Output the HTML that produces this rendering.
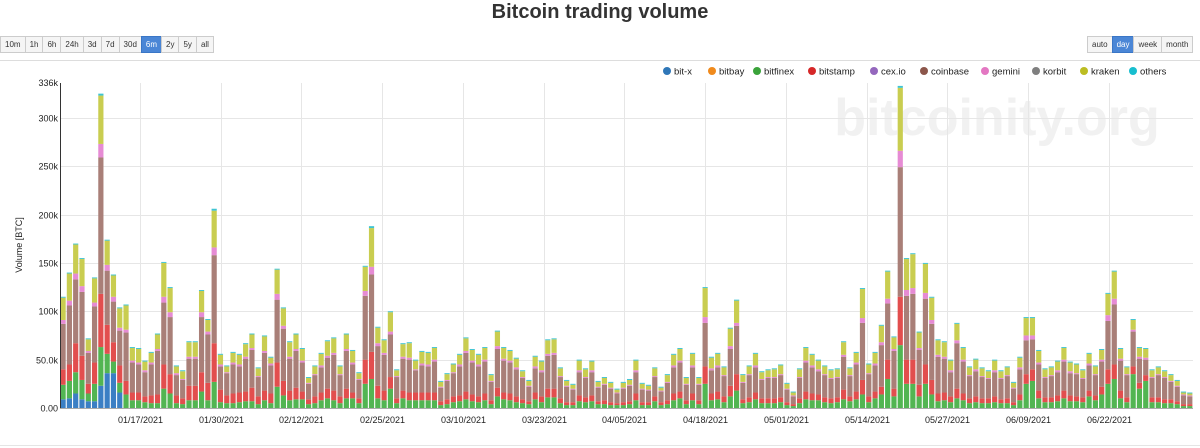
<!DOCTYPE html>
<html><head><meta charset="utf-8"><title>Bitcoin trading volume</title>
<style>
body{margin:0;width:1200px;height:448px;background:#fff;font-family:"Liberation Sans",sans-serif;overflow:hidden;position:relative}
.title{position:absolute;top:0;left:0;width:1200px;text-align:center;font-size:20px;font-weight:bold;color:#333;line-height:24px}
.grp{position:absolute;top:36px;display:flex}
.grp span{display:block;font-size:8px;color:#333;border:1px solid #ccc;margin-left:-1px;padding:0 4px;height:15px;line-height:15px;background:#f5f5f5}
.grp span.on{background:#4a86d6;color:#fff;border-color:#3a76c6}
</style></head><body>
<div class="title">Bitcoin trading volume</div>
<div class="grp" style="left:1px">
<span>10m</span><span>1h</span><span>6h</span><span>24h</span><span>3d</span><span>7d</span><span>30d</span><span class="on">6m</span><span>2y</span><span>5y</span><span>all</span>
</div>
<div class="grp" style="left:1088px">
<span>auto</span><span class="on">day</span><span>week</span><span>month</span>
</div>
<svg id="chart" width="1200" height="448" style="position:absolute;left:0;top:0"></svg>
<script>
const startDate = "2021-01-05";
const tickLabels = ["01/17/2021","01/30/2021","02/12/2021","02/25/2021","03/10/2021","03/23/2021","04/05/2021","04/18/2021","05/01/2021","05/14/2021","05/27/2021","06/09/2021","06/22/2021"];
const tickDayIndex = [12,25,38,51,64,77,90,103,116,129,142,155,168];
const yTicks = [0,50,100,150,200,250,300];
const yTickLabels = ["0.00","50.0k","100k","150k","200k","250k","300k"];
const yMax = 336;
const bitx = [9,10,15,9,7,7,23,36,36,16];
const bitfinex = [15,18,22,20,8,18,40,20,12,10,14,8,8,6,5,5,20,15,5,4,8,8,17,8,27,6,5,5,6,7,7,4,8,5,22,13,8,9,9,4,5,8,10,8,5,10,10,5,25,30,10,8,20,5,10,8,8,8,8,8,3,4,6,7,9,7,6,8,4,12,9,8,6,5,4,9,6,11,11,5,3,3,7,6,7,4,4,3,3,3,4,8,3,3,7,3,4,8,10,4,8,4,25,8,9,6,12,18,5,6,9,5,5,5,6,3,2,5,9,8,8,6,5,6,9,7,9,14,6,10,14,30,12,65,25,25,12,25,14,7,8,6,10,8,5,6,5,5,6,5,5,3,8,25,28,10,6,6,7,10,7,7,6,12,8,14,25,30,10,6,35,20,28,6,6,5,5,4,2,2];
const bitstamp = [16,17,30,25,10,22,55,30,20,18,14,8,8,6,8,9,25,20,8,6,15,15,20,18,40,13,8,10,10,10,14,8,10,10,25,15,10,12,8,5,7,8,10,10,7,10,6,5,25,28,13,10,12,5,8,8,8,8,8,8,4,5,6,6,8,7,6,7,4,9,7,7,6,4,3,7,6,9,9,5,3,3,6,5,6,3,4,3,2,3,3,7,3,3,5,3,4,7,7,4,7,4,18,7,8,6,11,17,4,5,7,5,5,5,5,3,2,5,8,7,6,5,5,5,10,5,8,15,6,7,8,20,8,50,25,25,12,20,15,8,8,6,10,7,5,6,5,5,6,4,5,3,6,10,12,8,5,5,6,8,6,5,5,6,5,8,15,15,8,5,8,6,6,5,5,4,4,3,2,2];
const coinbase = [47,61,66,66,32,58,141,56,42,36,50,31,29,25,32,45,64,59,21,19,28,28,57,50,91,24,23,30,27,34,39,20,39,29,65,54,33,38,30,16,22,26,32,37,22,39,29,19,66,80,41,37,44,22,33,34,23,28,27,32,14,19,24,30,40,33,31,33,19,40,33,32,28,22,15,25,25,34,35,22,16,13,24,20,24,14,16,14,10,14,16,22,13,12,20,11,18,27,30,16,27,16,45,24,25,21,38,50,17,23,26,19,21,21,23,13,8,21,30,27,24,23,20,20,34,21,28,59,23,27,43,58,39,134,66,68,36,68,58,38,35,25,47,33,23,26,22,20,25,21,23,14,26,35,31,27,20,22,24,30,23,23,19,26,21,26,50,62,31,23,36,25,16,20,23,22,18,15,9,8];
const gemini = [4,5,6,6,2,4,14,6,5,3,3,2,2,2,2,2,6,5,2,1,2,2,5,3,8,2,1,2,2,2,2,1,2,2,6,3,2,2,2,1,1,2,2,2,1,2,2,1,5,8,3,2,3,1,2,2,1,2,2,2,1,1,1,2,2,2,2,2,1,3,2,2,2,1,1,2,2,2,2,1,1,1,2,1,2,1,1,1,1,1,1,2,1,1,1,1,1,2,2,1,2,1,6,2,2,1,3,3,1,1,2,1,1,1,1,1,1,1,2,2,2,1,1,1,2,1,2,5,1,2,3,5,2,17,6,6,2,6,4,2,2,2,3,2,1,2,1,1,2,1,1,1,2,5,4,2,1,1,2,2,2,1,1,2,1,2,6,6,2,1,2,2,2,1,1,1,1,1,1,1];
const kraken = [23,28,30,28,12,25,50,25,22,20,25,13,14,9,10,15,35,25,7,8,15,15,22,12,38,10,6,10,10,13,14,8,15,6,25,18,15,15,12,5,8,12,15,15,8,15,12,6,25,40,16,13,20,6,13,15,9,12,12,12,5,6,8,10,13,11,10,12,6,15,11,10,9,6,5,10,9,14,14,8,5,4,10,8,9,5,6,5,3,5,5,10,5,4,8,3,7,11,12,6,12,6,30,11,12,8,18,23,7,8,12,7,7,8,9,5,3,8,13,11,9,8,8,8,13,7,10,30,9,11,17,28,12,65,32,35,16,30,23,15,15,10,17,12,8,10,8,7,10,7,8,5,10,18,18,12,8,8,9,12,9,9,8,10,8,10,22,28,10,7,10,9,9,7,7,6,6,5,2,2];
const others = [1,1,1,1,1,1,2,1,1,1,1,1,1,1,1,1,1,1,1,1,1,1,1,1,2,1,1,1,1,1,1,1,1,1,1,1,1,1,1,1,1,1,1,1,1,1,1,1,1,2,1,1,1,1,1,1,1,1,1,1,1,1,1,1,1,1,1,1,1,1,1,1,1,1,1,1,1,1,1,1,1,1,1,1,1,1,1,1,1,1,1,1,1,1,1,1,1,1,1,1,1,1,1,1,1,1,1,1,1,1,1,1,1,1,1,1,1,1,1,1,1,1,1,1,1,1,1,1,1,1,1,1,1,2,1,1,1,1,1,1,1,1,1,1,1,1,1,1,1,1,1,1,1,1,1,1,1,1,1,1,1,1,1,1,1,1,1,1,1,1,1,1,1,1,1,1,1,1,1,1];
const seriesNames = ["bit-x","bitfinex","bitstamp","coinbase","gemini","kraken","others"];
const seriesData = [bitx,bitfinex,bitstamp,coinbase,gemini,kraken,others];
const seriesColors = ["#3b7fc4","#52b552","#e24e4e","#a97f78","#e68bd4","#c9cd50","#3fc4d2"];
const legendNames = ["bit-x","bitbay","bitfinex","bitstamp","cex.io","coinbase","gemini","korbit","kraken","others"];
const legendColors = ["#2f77b8","#f08a1c","#3aa33a","#d62728","#9467bd","#8c564b","#e377c2","#7f7f7f","#bcbd22","#17becf"];

const NS="http://www.w3.org/2000/svg";
const svg=document.getElementById('chart');
const L=60,R=1193,T=83,B=408;
const N=bitfinex.length;
const step=(R-L)/N;
const xs=i=>L+i*step;
const ys=v=>B-(v/yMax)*(B-T);
const tickX=d=>140+(d-12)*6.21;
function mk(tag,attrs,parent){const e=document.createElementNS(NS,tag);for(const k in attrs)e.setAttribute(k,attrs[k]);(parent||svg).appendChild(e);return e;}

let fl=mk('line',{x1:0,x2:1200,y1:60.5,y2:60.5,stroke:'#ddd'});


let wm=mk('text',{x:997,y:135,'text-anchor':'middle','font-size':52,'font-weight':'bold',fill:'#f1f1f1','font-family':'Liberation Sans, sans-serif'});
wm.textContent='bitcoinity.org';


yTicks.forEach((v,i)=>{
  const y=Math.round(ys(v))+0.5;
  const g=mk('line',{x1:L,x2:R,y1:y,y2:y,stroke:'#e6e6e6'});
  
  
  const t=mk('text',{x:L-2,y:y+3,'text-anchor':'end','font-size':9,fill:'#222'});
  t.textContent=yTickLabels[i];
  
  
});
let tm=mk('text',{x:L-2,y:T+3,'text-anchor':'end','font-size':9,fill:'#222'});
tm.textContent=yMax+'k';


tickDayIndex.forEach((d,i)=>{
  const x=Math.round(tickX(d))+0.5;
  const g=mk('line',{x1:x,x2:x,y1:T,y2:B,stroke:'#e6e6e6'});
  
  
  const t=mk('text',{x:x,y:423,'text-anchor':'middle','font-size':9,fill:'#222'});
  t.textContent=tickLabels[i];
  
  
});
for(let i=0;i<N;i++){
  let acc=0;
  seriesData.forEach((arr,s)=>{
    const v=arr[i]||0; if(!v) return;
    const y0=ys(acc), y1=ys(acc+v);
    const r=mk('rect',{x:xs(i)+0.5,y:y1,width:step-1.1,height:Math.max(0,y0-y1),fill:seriesColors[s]});
    
    
    acc+=v;
  });
}
let ax=mk('line',{x1:L+0.5,x2:L+0.5,y1:T,y2:B,stroke:'#333'});


let bx=mk('line',{x1:L,x2:R,y1:B+0.5,y2:B+0.5,stroke:'#aaa'});


let yt=mk('text',{x:22,y:245,'text-anchor':'middle','font-size':9,fill:'#222',transform:'rotate(-90 22 245)'});
yt.textContent='Volume [BTC]';


const legX=[667,712,757,812,874,924,985,1036,1084,1133];
legendNames.forEach((n,i)=>{
  const c=mk('circle',{cx:legX[i],cy:71,r:4,fill:legendColors[i]});
  
  
  const t=mk('text',{x:legX[i]+7,y:74.5,'font-size':9.5,fill:'#222'});
  t.textContent=n;
  
  
});
let bl=mk('line',{x1:0,x2:1200,y1:445.5,y2:445.5,stroke:'#e5e5e5'});


</script>
</body></html>
